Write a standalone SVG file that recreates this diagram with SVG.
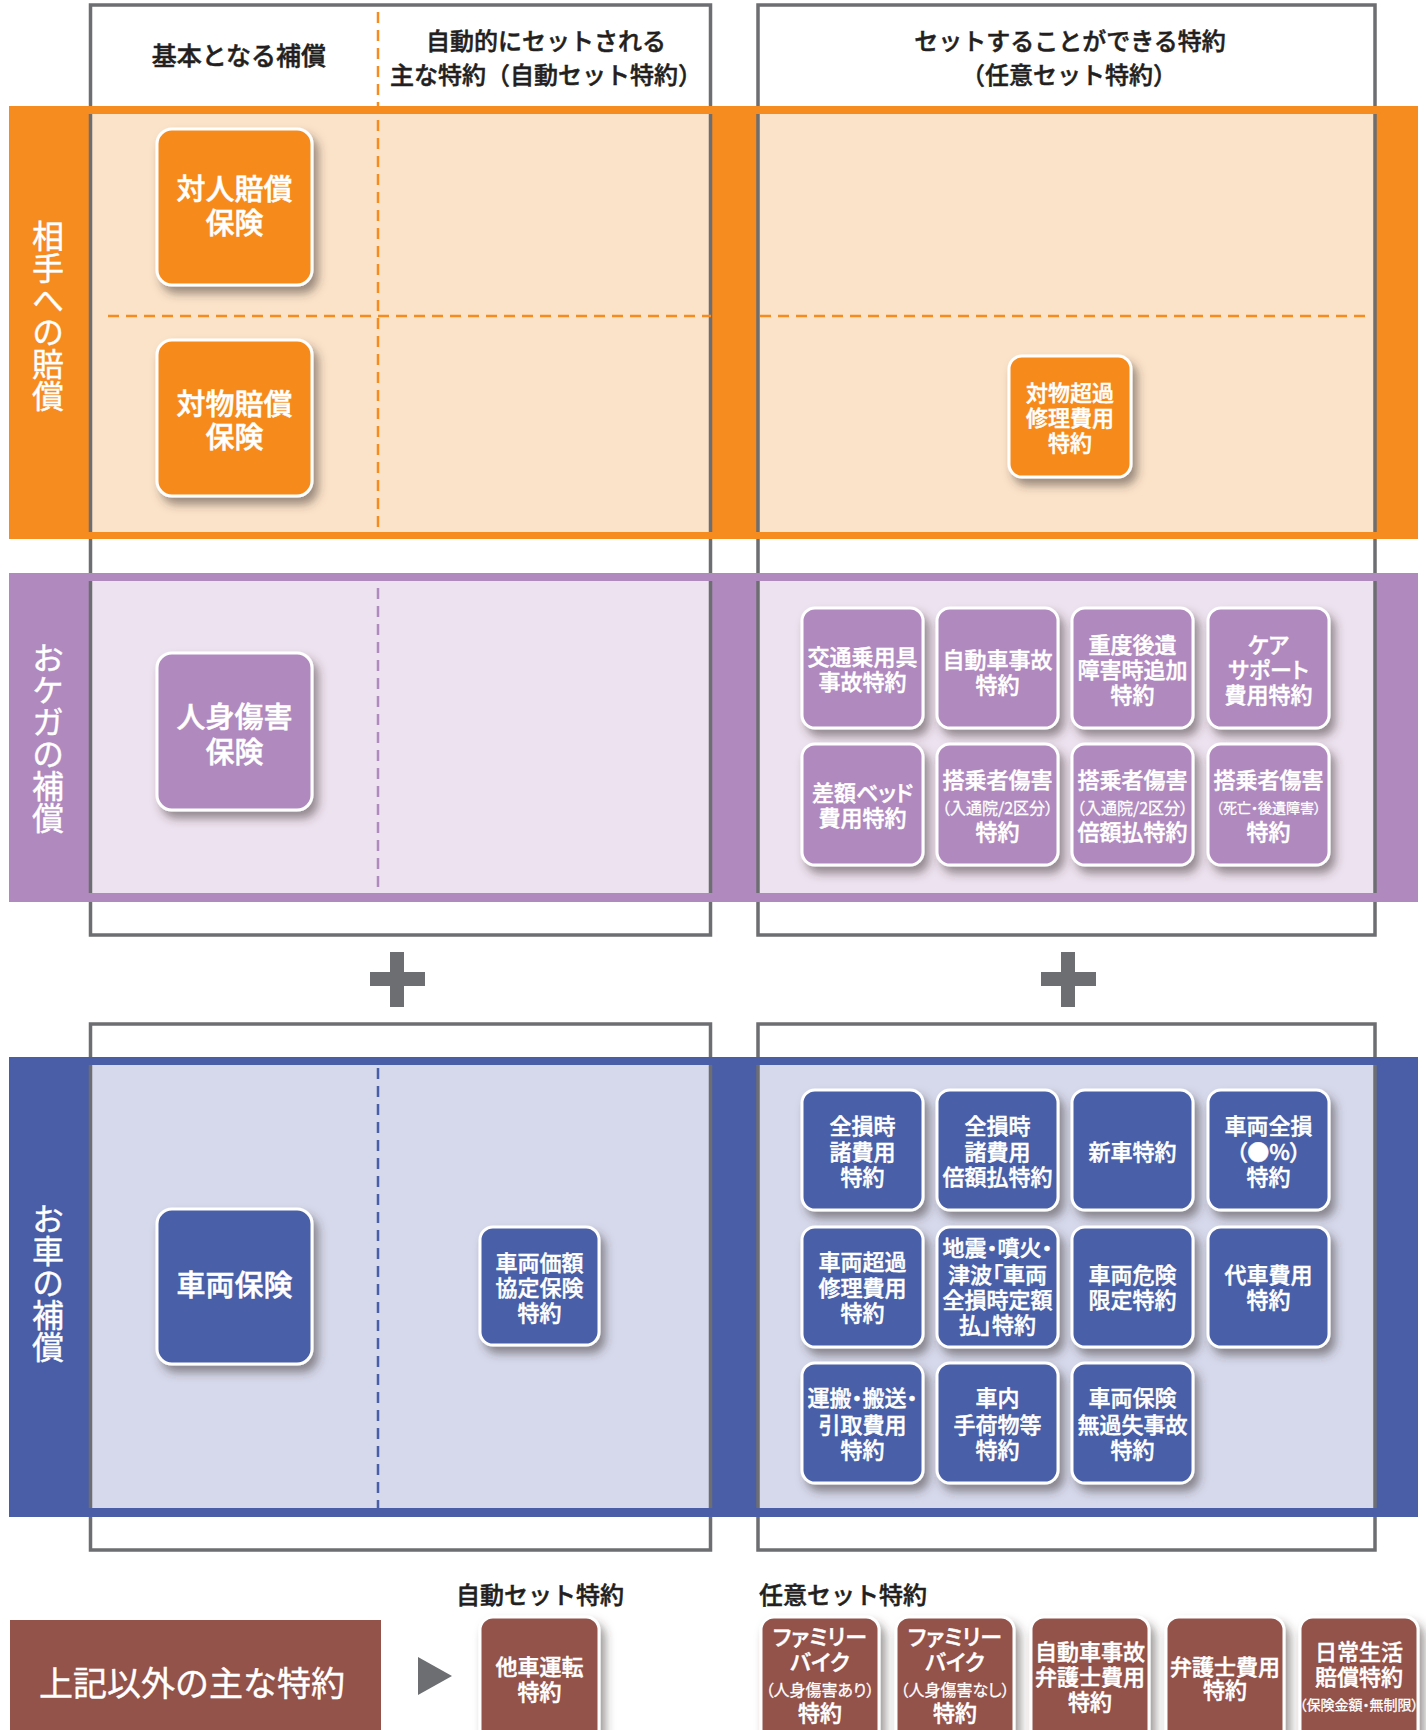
<svg xmlns="http://www.w3.org/2000/svg" width="1426" height="1730" viewBox="0 0 1426 1730">
<defs>
<style>
text{font-family:"Noto Sans CJK JP","Noto Sans",sans-serif;font-feature-settings:"palt" 1;}
.np{font-feature-settings:normal;}
.hdr{font-size:24px;fill:#231f20;stroke:#231f20;stroke-width:0.5;text-anchor:middle;font-weight:500;font-feature-settings:normal;}
.hdl{font-size:24px;fill:#231f20;stroke:#231f20;stroke-width:0.5;font-weight:500;font-feature-settings:normal;}
.t{font-size:22px;fill:#fff;stroke:#fff;stroke-width:0.45;text-anchor:middle;font-weight:500;}
.tb{font-size:29px;fill:#fff;stroke:#fff;stroke-width:0.5;text-anchor:middle;font-weight:500;}
.ts{font-size:16px;fill:#fff;stroke:#fff;stroke-width:0.3;text-anchor:middle;}
.tx{font-size:14px;fill:#fff;stroke:#fff;stroke-width:0.3;text-anchor:middle;}
.vl{font-size:32px;fill:#fff;stroke:#fff;stroke-width:0.4;text-anchor:middle;writing-mode:vertical-rl;font-feature-settings:normal;}
.gbox{fill:#fff;stroke:#6d6e71;stroke-width:3.5;}
.gl{stroke:#6d6e71;stroke-width:3.5;}
.nd{stroke:#fff;stroke-width:3;filter:url(#sh);}
.or{fill:#f68b1f;} .orl{fill:#fbe3c9;}
.pu{fill:#b08abe;} .pul{fill:#ede2ef;}
.bl{fill:#4a5ea8;} .bll{fill:#d5d9eb;}
.br{fill:#93534b;}
.dsh{fill:none;stroke-width:2.5;stroke-dasharray:11 7;}
.gr{fill:#6d6e71;}
</style>
<filter id="sh" x="-20%" y="-20%" width="150%" height="150%">
<feDropShadow dx="5" dy="7" stdDeviation="5" flood-color="#3a3030" flood-opacity="0.5"/>
</filter>
</defs>
<rect width="1426" height="1730" fill="#fff"/>

<g id="frames">
<rect class="gbox" x="90.5" y="5" width="620" height="930"/>
<rect class="gbox" x="758" y="5" width="617" height="930"/>
<rect class="gbox" x="90.5" y="1024" width="620" height="526"/>
<rect class="gbox" x="758" y="1024" width="617" height="526"/>
</g>

<g id="band-orange">
<rect class="or" x="9" y="106" width="1409" height="433"/>
<rect class="orl" x="90.5" y="114" width="620" height="418"/>
<rect class="orl" x="758" y="114" width="617" height="418"/>
<path class="gl" d="M90.5 114V532M710.5 114V532M758 114V532M1375 114V532"/>
</g>
<g id="band-purple">
<rect class="pu" x="9" y="573" width="1409" height="329"/>
<rect class="pul" x="90.5" y="581" width="620" height="312"/>
<rect class="pul" x="758" y="581" width="617" height="312"/>
<path class="gl" d="M90.5 581V893M710.5 581V893M758 581V893M1375 581V893"/>
</g>
<g id="band-blue">
<rect class="bl" x="9" y="1057" width="1409" height="460"/>
<rect class="bll" x="90.5" y="1065" width="620" height="443"/>
<rect class="bll" x="758" y="1065" width="617" height="443"/>
<path class="gl" d="M90.5 1065V1508M710.5 1065V1508M758 1065V1508M1375 1065V1508"/>
</g>

<g id="dividers">
<path class="dsh" stroke="#f68b1f" d="M378 12V532M108 316H711M760 316H1366"/>
<path class="dsh" stroke="#b08abe" d="M378 588V893"/>
<path class="dsh" stroke="#4a5ea8" d="M378 1068V1508"/>
</g>

<g id="headers">
<text class="hdr" x="239" y="65" style="font-size:25px">基本となる補償</text>
<text class="hdr" x="546" y="50">自動的にセットされる</text>
<text class="hdr" x="546" y="84">主な特約（自動セット特約）</text>
<text class="hdr" x="1070" y="50">セットすることができる特約</text>
<text class="hdr" x="1069" y="84">（任意セット特約）</text>
</g>

<g id="labels">
<text class="vl" x="48" y="316">相手への賠償</text>
<text class="vl" x="48" y="738">おケガの補償</text>
<text class="vl" x="48" y="1283">お車の補償</text>
</g>

<g id="plus">
<rect class="gr" x="390" y="952" width="14" height="55"/>
<rect class="gr" x="370" y="972" width="55" height="14"/>
<rect class="gr" x="1061" y="952" width="14" height="55"/>
<rect class="gr" x="1041" y="972" width="55" height="14"/>
</g>

<g id="connectors">
<polygon class="gr" points="418,1657 452,1676 418,1695"/>
</g>

<!-- orange nodes -->
<g id="n-taijin"><rect class="nd or" x="157" y="129" width="155" height="156" rx="15"/><text class="tb" x="234.5" y="200">対人賠償</text><text class="tb" x="234.5" y="234">保険</text></g>
<g id="n-taibutsu"><rect class="nd or" x="157" y="340" width="155" height="156" rx="15"/><text class="tb" x="234.5" y="415">対物賠償</text><text class="tb" x="234.5" y="448">保険</text></g>
<g id="n-taibutsu-choka"><rect class="nd or" x="1009" y="356" width="122" height="121" rx="13"/><text class="t" x="1070" y="401">対物超過</text><text class="t" x="1070" y="426">修理費用</text><text class="t" x="1070" y="451">特約</text></g>

<!-- purple nodes -->
<g id="n-jinshin"><rect class="nd pu" x="157" y="653" width="155" height="157" rx="15"/><text class="tb" x="234.5" y="728">人身傷害</text><text class="tb" x="234.5" y="763">保険</text></g>
<g id="n-kotsu"><rect class="nd pu" x="802" y="608" width="121" height="120" rx="13"/><text class="t" x="862.5" y="665">交通乗用具</text><text class="t" x="862.5" y="690">事故特約</text></g>
<g id="n-jidosha"><rect class="nd pu" x="937" y="608" width="121" height="120" rx="13"/><text class="t" x="997.5" y="668">自動車事故</text><text class="t" x="997.5" y="693">特約</text></g>
<g id="n-judo"><rect class="nd pu" x="1072" y="608" width="121" height="120" rx="13"/><text class="t" x="1132.5" y="653">重度後遺</text><text class="t" x="1132.5" y="678">障害時追加</text><text class="t" x="1132.5" y="703">特約</text></g>
<g id="n-care"><rect class="nd pu" x="1208" y="608" width="121" height="120" rx="13"/><text class="t" x="1268.5" y="653">ケア</text><text class="t" x="1268.5" y="678">サポート</text><text class="t" x="1268.5" y="703">費用特約</text></g>
<g id="n-sagaku"><rect class="nd pu" x="802" y="744" width="121" height="121" rx="13"/><text class="t" x="862.5" y="801">差額ベッド</text><text class="t" x="862.5" y="826">費用特約</text></g>
<g id="n-tojo1"><rect class="nd pu" x="937" y="744" width="121" height="121" rx="13"/><text class="t" x="997.5" y="788">搭乗者傷害</text><text class="ts" x="997.5" y="814">（入通院/2区分）</text><text class="t" x="997.5" y="840">特約</text></g>
<g id="n-tojo2"><rect class="nd pu" x="1072" y="744" width="121" height="121" rx="13"/><text class="t" x="1132.5" y="788">搭乗者傷害</text><text class="ts" x="1132.5" y="814">（入通院/2区分）</text><text class="t" x="1132.5" y="840">倍額払特約</text></g>
<g id="n-tojo3"><rect class="nd pu" x="1208" y="744" width="121" height="121" rx="13"/><text class="t" x="1268.5" y="788">搭乗者傷害</text><text class="tx" x="1268.5" y="813">（死亡・後遺障害）</text><text class="t" x="1268.5" y="840">特約</text></g>

<!-- blue nodes -->
<g id="n-sharyo"><rect class="nd bl" x="157" y="1209" width="155" height="155" rx="15"/><text class="tb" x="234.5" y="1296">車両保険</text></g>
<g id="n-kakaku"><rect class="nd bl" x="480" y="1227" width="119" height="118" rx="13"/><text class="t" x="539.5" y="1271">車両価額</text><text class="t" x="539.5" y="1296">協定保険</text><text class="t" x="539.5" y="1321">特約</text></g>
<g id="n-zenson1"><rect class="nd bl" x="802" y="1090" width="121" height="120" rx="13"/><text class="t" x="862.5" y="1134">全損時</text><text class="t" x="862.5" y="1160">諸費用</text><text class="t" x="862.5" y="1185">特約</text></g>
<g id="n-zenson2"><rect class="nd bl" x="937" y="1090" width="121" height="120" rx="13"/><text class="t" x="997.5" y="1134">全損時</text><text class="t" x="997.5" y="1160">諸費用</text><text class="t" x="997.5" y="1185">倍額払特約</text></g>
<g id="n-shinsha"><rect class="nd bl" x="1072" y="1090" width="121" height="120" rx="13"/><text class="t" x="1132.5" y="1160">新車特約</text></g>
<g id="n-zenson3"><rect class="nd bl" x="1208" y="1090" width="121" height="120" rx="13"/><text class="t" x="1268.5" y="1134">車両全損</text><text class="t" x="1268.5" y="1160">（●%）</text><text class="t" x="1268.5" y="1185">特約</text></g>
<g id="n-choka"><rect class="nd bl" x="802" y="1227" width="121" height="120" rx="13"/><text class="t" x="862.5" y="1270">車両超過</text><text class="t" x="862.5" y="1296">修理費用</text><text class="t" x="862.5" y="1321">特約</text></g>
<g id="n-jishin"><rect class="nd bl" x="937" y="1227" width="121" height="120" rx="13"/><text class="t" x="997.5" y="1256">地震・噴火・</text><text class="t" x="997.5" y="1283">津波「車両</text><text class="t" x="997.5" y="1308">全損時定額</text><text class="t" x="997.5" y="1333">払」特約</text></g>
<g id="n-kiken"><rect class="nd bl" x="1072" y="1227" width="121" height="120" rx="13"/><text class="t" x="1132.5" y="1283">車両危険</text><text class="t" x="1132.5" y="1308">限定特約</text></g>
<g id="n-daisha"><rect class="nd bl" x="1208" y="1227" width="121" height="120" rx="13"/><text class="t" x="1268.5" y="1283">代車費用</text><text class="t" x="1268.5" y="1308">特約</text></g>
<g id="n-unpan"><rect class="nd bl" x="802" y="1363" width="121" height="120" rx="13"/><text class="t" x="862.5" y="1406">運搬・搬送・</text><text class="t" x="862.5" y="1433">引取費用</text><text class="t" x="862.5" y="1458">特約</text></g>
<g id="n-shanai"><rect class="nd bl" x="937" y="1363" width="121" height="120" rx="13"/><text class="t" x="997.5" y="1406">車内</text><text class="t" x="997.5" y="1433">手荷物等</text><text class="t" x="997.5" y="1458">特約</text></g>
<g id="n-mukashitsu"><rect class="nd bl" x="1072" y="1363" width="121" height="120" rx="13"/><text class="t" x="1132.5" y="1406">車両保険</text><text class="t" x="1132.5" y="1433">無過失事故</text><text class="t" x="1132.5" y="1458">特約</text></g>

<!-- bottom row -->
<g id="bottom-headers">
<text class="hdr" x="540" y="1604">自動セット特約</text>
<text class="hdl" x="759" y="1604">任意セット特約</text>
</g>
<g id="n-other"><rect class="br" x="10" y="1620" width="371" height="115"/><text class="np" x="192" y="1696" style="font-size:34px;fill:#fff;stroke:#fff;stroke-width:0.4;text-anchor:middle">上記以外の主な特約</text></g>
<g id="n-tasha"><rect class="nd br" x="480" y="1617" width="119" height="130" rx="13"/><text class="t" x="539.5" y="1675">他車運転</text><text class="t" x="539.5" y="1700">特約</text></g>
<g id="n-family1"><rect class="nd br" x="761" y="1617" width="118" height="130" rx="13"/><text class="t" x="820" y="1645">ファミリー</text><text class="t" x="820" y="1670">バイク</text><text class="ts" x="820" y="1696">（人身傷害あり）</text><text class="t" x="820" y="1721">特約</text></g>
<g id="n-family2"><rect class="nd br" x="896" y="1617" width="118" height="130" rx="13"/><text class="t" x="955" y="1645">ファミリー</text><text class="t" x="955" y="1670">バイク</text><text class="ts" x="955" y="1696">（人身傷害なし）</text><text class="t" x="955" y="1721">特約</text></g>
<g id="n-bengoshi1"><rect class="nd br" x="1031" y="1617" width="118" height="130" rx="13"/><text class="t" x="1090" y="1660">自動車事故</text><text class="t" x="1090" y="1685">弁護士費用</text><text class="t" x="1090" y="1710">特約</text></g>
<g id="n-bengoshi2"><rect class="nd br" x="1166" y="1617" width="118" height="130" rx="13"/><text class="t" x="1225" y="1675">弁護士費用</text><text class="t" x="1225" y="1698">特約</text></g>
<g id="n-nichijo"><rect class="nd br" x="1300" y="1617" width="118" height="130" rx="13"/><text class="t" x="1359" y="1660">日常生活</text><text class="t" x="1359" y="1685">賠償特約</text><text class="tx" x="1359" y="1710">（保険金額・無制限）</text></g>
</svg>
